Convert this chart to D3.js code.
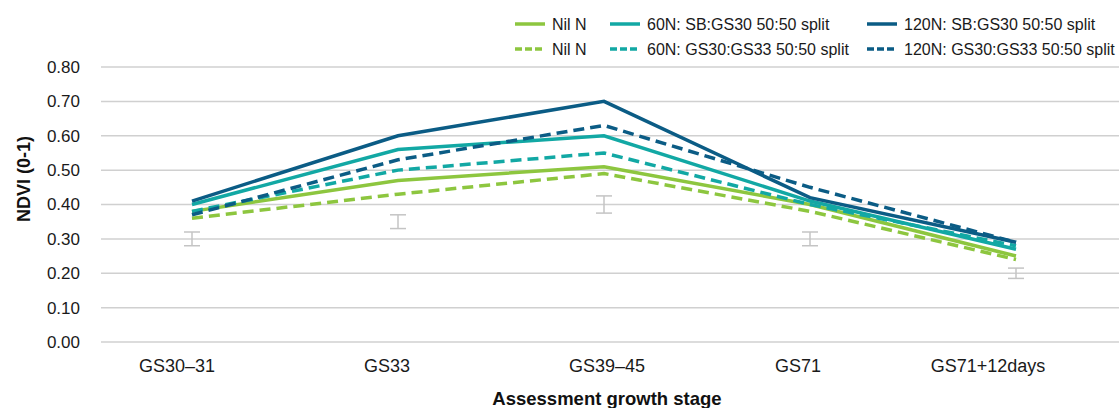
<!DOCTYPE html>
<html>
<head>
<meta charset="utf-8">
<script src="https://cdn.jsdelivr.net/npm/d3@7"></script>
<style>
  body { margin: 0; background: #fff; }
  svg { font-family: "Liberation Sans", Arial, sans-serif; }
</style>
</head>
<body>
<svg id="chart"></svg>
<script>
// Growth stages
const stages = ['GS30\u201331', 'GS33', 'GS39\u201345', 'GS71', 'GS71+12days'];

// NDVI by treatment
const nilSolid   = [0.38, 0.47, 0.51, 0.40, 0.25];
const nilDashed  = [0.36, 0.43, 0.49, 0.38, 0.24];
const n60Solid   = [0.40, 0.56, 0.60, 0.41, 0.27];
const n60Dashed  = [0.38, 0.50, 0.55, 0.40, 0.28];
const n120Solid  = [0.41, 0.60, 0.70, 0.42, 0.29];
const n120Dashed = [0.37, 0.53, 0.63, 0.45, 0.29];

// Error bars (centre, half-range)
const errMid  = [0.30, 0.35, 0.40, 0.30, 0.20];
const errHalf = [0.02, 0.02, 0.025, 0.02, 0.015];

const yTicks = [0, 0.1, 0.2, 0.3, 0.4, 0.5, 0.6, 0.7, 0.8];

const series = [
  {name: 'Nil N', values: nilSolid, color: '#8dc63f', dashed: false},
  {name: 'Nil N', values: nilDashed, color: '#8dc63f', dashed: true},
  {name: '60N: SB:GS30 50:50 split', values: n60Solid, color: '#12a8a4', dashed: false},
  {name: '60N: GS30:GS33 50:50 split', values: n60Dashed, color: '#12a8a4', dashed: true},
  {name: '120N: SB:GS30 50:50 split', values: n120Solid, color: '#0b5c85', dashed: false},
  {name: '120N: GS30:GS33 50:50 split', values: n120Dashed, color: '#0b5c85', dashed: true}
];

const width = 1119, height = 408;
const font = '"Liberation Sans", Arial, sans-serif';
const svg = d3.select('#chart').attr('width', width).attr('height', height);

const xScale = d3.scaleBand().domain(stages).range([89, 1119]);
const xc = d => xScale(d) + xScale.bandwidth() / 2;
const yScale = d3.scaleLinear().domain([0, 0.8]).range([342, 67]);

// Gridlines
svg.append('g').selectAll('line')
  .data(yTicks)
  .join('line')
    .attr('x1', 101).attr('x2', 1119)
    .attr('y1', d => yScale(d)).attr('y2', d => yScale(d))
    .attr('stroke', '#d0d0d0')
    .attr('stroke-width', 1.5);

// Y axis labels
const yAxis = d3.axisLeft(yScale).tickValues(yTicks).tickFormat(d3.format('.2f')).tickSize(0).tickPadding(0);
const yAxisG = svg.append('g').attr('transform', 'translate(80,0)').call(yAxis);
yAxisG.select('.domain').remove();
yAxisG.selectAll('text').attr('font-size', 17).attr('fill', '#1a1a1a').attr('font-family', font);

// X axis labels (labels in the source sit a little left of the data points)
const labelNudge = [-15, -11, 3, -12, -28];
const xAxis = d3.axisBottom(xScale).tickSize(0).tickPadding(0);
const xAxisG = svg.append('g').attr('transform', 'translate(0,359)').call(xAxis);
xAxisG.select('.domain').remove();
xAxisG.selectAll('text')
  .attr('font-size', 18).attr('fill', '#1a1a1a').attr('font-family', font)
  .attr('dx', (d, i) => labelNudge[i]);

// Axis titles
svg.append('text')
  .attr('transform', 'translate(30,179) rotate(-90)')
  .attr('text-anchor', 'middle')
  .attr('font-size', 18).attr('font-weight', 'bold').attr('fill', '#111')
  .text('NDVI (0-1)');

svg.append('text')
  .attr('x', 607).attr('y', 405)
  .attr('text-anchor', 'middle')
  .attr('font-size', 18.5).attr('font-weight', 'bold').attr('fill', '#111')
  .text('Assessment growth stage');

// Error bars
const errG = svg.append('g').attr('stroke', '#c4c4c4').attr('stroke-width', 1.5).attr('fill', 'none');
stages.forEach((s, i) => {
  const x = xc(s);
  const y1 = yScale(errMid[i] + errHalf[i]), y2 = yScale(errMid[i] - errHalf[i]);
  errG.append('line').attr('x1', x).attr('x2', x).attr('y1', y1).attr('y2', y2);
  errG.append('line').attr('x1', x - 8).attr('x2', x + 8).attr('y1', y1).attr('y2', y1);
  errG.append('line').attr('x1', x - 8).attr('x2', x + 8).attr('y1', y2).attr('y2', y2);
});

// Lines
const line = d3.line()
  .x((d, i) => xc(stages[i]))
  .y(d => yScale(d));

svg.append('g').selectAll('path')
  .data(series)
  .join('path')
    .attr('d', d => line(d.values))
    .attr('fill', 'none')
    .attr('stroke', d => d.color)
    .attr('stroke-width', 3.5)
    .attr('stroke-dasharray', d => d.dashed ? '11,6' : null);

// Legend
const legendCols = [515, 610, 867];
const legendRows = [24, 49];
const legend = svg.append('g');
series.forEach((s, i) => {
  const col = Math.floor(i / 2), row = i % 2;
  const g = legend.append('g').attr('transform', `translate(${legendCols[col]},${legendRows[row]})`);
  g.append('line')
    .attr('x1', 0).attr('x2', 30).attr('y1', 0).attr('y2', 0)
    .attr('stroke', s.color).attr('stroke-width', 3.5)
    .attr('stroke-dasharray', s.dashed ? '7,3' : null);
  g.append('text')
    .attr('x', 37).attr('y', 5.5)
    .attr('font-size', 16).attr('fill', '#1a1a1a')
    .text(s.name);
});
</script>
</body>
</html>
